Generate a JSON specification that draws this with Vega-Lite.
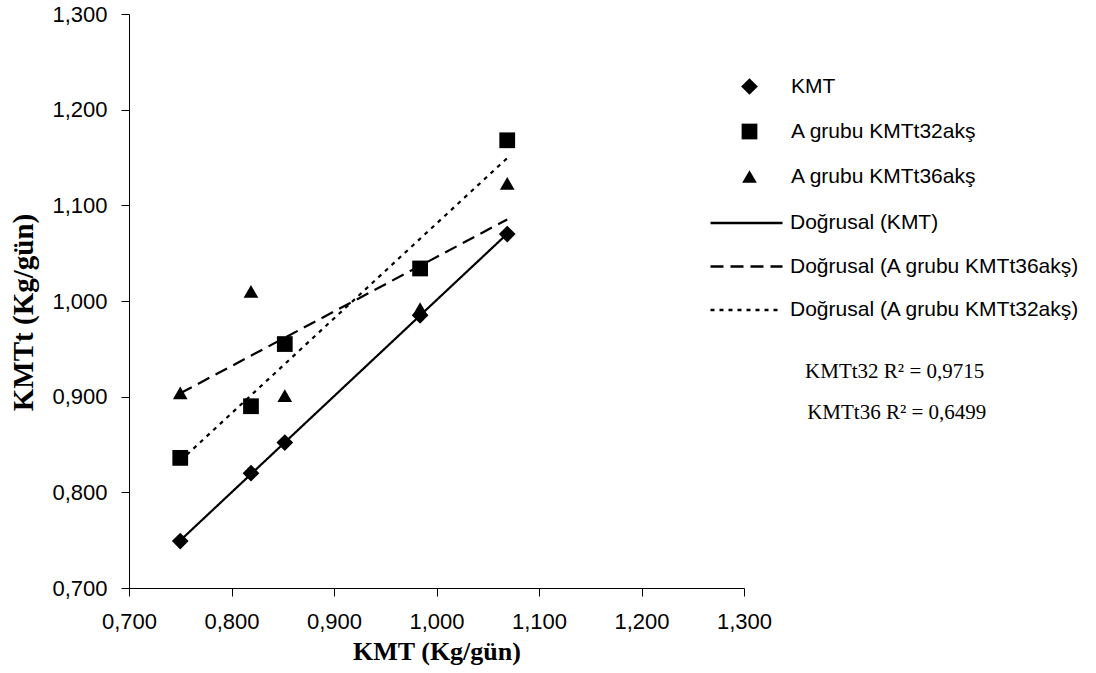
{
  "$schema": "https://vega.github.io/schema/vega-lite/v6.json",
  "width": 615,
  "height": 574,
  "autosize": "none",
  "padding": {"left": 129, "top": 14, "right": 352, "bottom": 85},
  "background": "white",
  "config": {
    "view": {"stroke": null},
    "axis": {
      "grid": false,
      "domainColor": "black",
      "domainWidth": 1,
      "tickColor": "black",
      "tickWidth": 1,
      "tickSize": 8,
      "labelFont": "Liberation Sans",
      "labelFontSize": 22,
      "labelColor": "black",
      "titleFont": "Liberation Serif",
      "titleFontWeight": "bold",
      "titleColor": "black"
    },
    "legend": {
      "labelFont": "Liberation Sans",
      "labelFontSize": 21,
      "labelColor": "black",
      "labelLimit": 0,
      "padding": 0,
      "titlePadding": 0
    }
  },
  "datasets": {
    "pts": [
      {"series": "KMT", "x": 0.750, "y": 0.749},
      {"series": "KMT", "x": 0.819, "y": 0.820},
      {"series": "KMT", "x": 0.852, "y": 0.852},
      {"series": "KMT", "x": 0.984, "y": 0.985},
      {"series": "KMT", "x": 1.069, "y": 1.070},
      {"series": "A grubu KMTt32akş", "x": 0.750, "y": 0.836},
      {"series": "A grubu KMTt32akş", "x": 0.819, "y": 0.890},
      {"series": "A grubu KMTt32akş", "x": 0.852, "y": 0.955},
      {"series": "A grubu KMTt32akş", "x": 0.984, "y": 1.034},
      {"series": "A grubu KMTt32akş", "x": 1.069, "y": 1.168},
      {"series": "A grubu KMTt36akş", "x": 0.750, "y": 0.904},
      {"series": "A grubu KMTt36akş", "x": 0.819, "y": 1.010},
      {"series": "A grubu KMTt36akş", "x": 0.852, "y": 0.901},
      {"series": "A grubu KMTt36akş", "x": 0.984, "y": 0.992},
      {"series": "A grubu KMTt36akş", "x": 1.069, "y": 1.123}
    ],
    "labels": [
      {"text": "KMTt32 R² = 0,9715", "x": 1.447, "y": 0.926},
      {"text": "KMTt36 R² = 0,6499", "x": 1.449, "y": 0.883}
    ]
  },
  "encoding": {
    "x": {
      "field": "x",
      "type": "quantitative",
      "scale": {"domain": [0.7, 1.3], "nice": false, "zero": false},
      "axis": {
        "values": [0.7, 0.8, 0.9, 1.0, 1.1, 1.2, 1.3],
        "labelExpr": "replace(format(datum.value, '.3f'), '.', ',')",
        "labelPadding": 15,
        "labelFlush": false,
        "title": "KMT (Kg/gün)",
        "titleFontSize": 26,
        "titleBaseline": "alphabetic",
        "titleY": 71
      }
    },
    "y": {
      "field": "y",
      "type": "quantitative",
      "scale": {"domain": [0.7, 1.3], "nice": false, "zero": false},
      "axis": {
        "values": [0.7, 0.8, 0.9, 1.0, 1.1, 1.2, 1.3],
        "labelExpr": "replace(format(datum.value, '.3f'), '.', ',')",
        "labelPadding": 14,
        "labelFlush": false,
        "title": "KMTt (Kg/gün)",
        "titleFontSize": 29,
        "titleBaseline": "alphabetic",
        "titleX": -97,
        "titleY": 298
      }
    }
  },
  "layer": [
    {
      "data": {"name": "pts"},
      "transform": [{"regression": "y", "on": "x", "groupby": ["series"]}],
      "mark": {"type": "line", "color": "black", "strokeWidth": 2.2},
      "encoding": {
        "strokeDash": {
          "field": "series",
          "type": "nominal",
          "scale": {
            "domain": ["KMT", "A grubu KMTt36akş", "A grubu KMTt32akş"],
            "range": [[1, 0], [13, 7], [4, 5]]
          },
          "legend": {
            "title": null,
            "orient": "none",
            "legendX": 604,
            "legendY": 195.5,
            "symbolType": "M-3,0H3",
            "symbolSize": 576,
            "symbolStrokeColor": "black",
            "symbolStrokeWidth": 2.5,
            "labelOffset": 30,
            "rowPadding": 19.5,
            "labelExpr": "'Doğrusal (' + datum.label + ')'"
          }
        }
      }
    },
    {
      "data": {"name": "pts"},
      "mark": {"type": "point", "filled": true, "color": "black", "opacity": 1},
      "encoding": {
        "shape": {
          "field": "series",
          "type": "nominal",
          "scale": {
            "domain": ["KMT", "A grubu KMTt32akş", "A grubu KMTt36akş"],
            "range": ["diamond", "square", "triangle-up"]
          },
          "legend": {
            "title": null,
            "orient": "none",
            "legendX": 610,
            "legendY": 62,
            "symbolFillColor": "black",
            "symbolStrokeWidth": 0,
            "symbolOpacity": 1,
            "labelOffset": 31,
            "rowPadding": 23
          }
        },
        "size": {
          "field": "series",
          "type": "nominal",
          "scale": {
            "domain": ["KMT", "A grubu KMTt32akş", "A grubu KMTt36akş"],
            "range": [280, 216, 250]
          }
        }
      }
    },
    {
      "data": {"name": "labels"},
      "mark": {"type": "text", "font": "Liberation Serif", "fontSize": 21, "align": "center", "baseline": "middle", "color": "black"},
      "encoding": {
        "text": {"field": "text", "type": "nominal"}
      }
    }
  ]
}
